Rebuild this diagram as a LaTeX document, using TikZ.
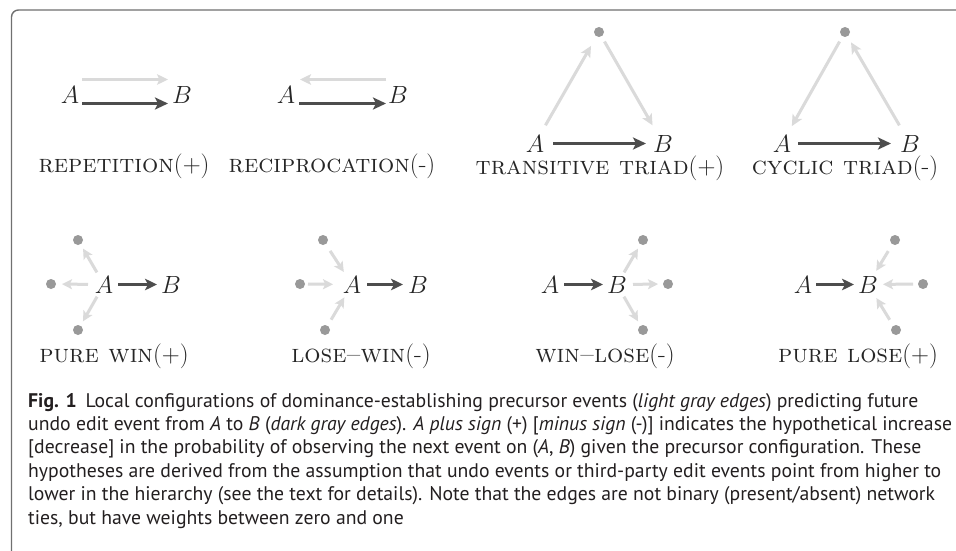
\documentclass[tikz,border=0pt]{standalone}
\usepackage{fontspec}
\newfontfamily\capfont{PT Sans}
\usetikzlibrary{arrows.meta}
\definecolor{darkc}{HTML}{4D4D4D}
\definecolor{lightc}{HTML}{DADADA}
\definecolor{dotc}{HTML}{999999}
\definecolor{framec}{HTML}{707070}
\definecolor{textc}{HTML}{231F20}
\begin{document}
\begin{tikzpicture}[x=1pt,y=-1pt,
  lbl/.style={font=\fontsize{24.5}{28}\selectfont, inner sep=0pt, anchor=base, text=black!85},
  tag/.style={font=\fontsize{25.5}{28}\selectfont, inner sep=0pt, anchor=base, text=black!85},
  dot/.style={circle, fill=dotc, minimum size=10pt, inner sep=0pt},
  darr/.style={draw=darkc, line width=3.8pt, -{Stealth[length=13pt,width=12pt,inset=3pt]}},
  larr/.style={draw=lightc, line width=3pt, -{Stealth[length=11pt,width=10.5pt,inset=2.5pt]}},
  darrs/.style={draw=darkc, line width=3.6pt, -{Stealth[length=12pt,width=11.5pt,inset=3pt]}},
  larrs/.style={draw=lightc, line width=3pt, -{Stealth[length=10pt,width=10pt,inset=2.2pt]}},
]
\useasboundingbox (0,0) rectangle (956,551);
\clip (0,0) rectangle (956,551);
\fill[white] (0,0) rectangle (956,551);
\draw[framec, line width=1.4pt, rounded corners=7pt] (11.5,600) -- (11.5,10) -- (1000,10);

% ---- Panel 1: repetition
\node[lbl] (A1) at (70,103) {$A$};
\node[lbl] (B1) at (182,103) {$B$};
\draw[larr, shorten <=12pt, shorten >=14pt] ([yshift=15pt]A1.center) -- ([yshift=15pt]B1.center);
\draw[darr, shorten <=12pt, shorten >=14pt] ([yshift=-9pt]A1.center) -- ([yshift=-9pt]B1.center);
\node[tag] (L1) at (124,172) {\textsc{repetition}$(+)$};

% ---- Panel 2: reciprocation
\node[lbl] (A2) at (286,103) {$A$};
\node[lbl] (B2) at (398,103) {$B$};
\draw[larr, shorten <=12pt, shorten >=14pt] ([yshift=15pt]B2.center) -- ([yshift=15pt]A2.center);
\draw[darr, shorten <=13pt, shorten >=12pt] ([yshift=-9pt]A2.center) -- ([yshift=-9pt]B2.center);
\node[tag] (L2) at (332,172) {\textsc{reciprocation}$($-$)$};

% ---- Panel 3: transitive triad
\node[lbl] (A3) at (535,152) {$A$};
\node[lbl] (B3) at (663,152) {$B$};
\node[dot] (T3) at (599,32) {};
\draw[darr, shorten <=18pt, shorten >=17pt] (A3.center) -- (B3.center);
\draw[larr, shorten <=21pt, shorten >=16pt] (A3.center) -- (T3.center);
\draw[larr, shorten <=11pt, shorten >=21pt] (T3.center) -- (B3.center);
\node[tag] (L3) at (600,174) {\textsc{transitive triad}$(+)$};

% ---- Panel 4: cyclic triad
\node[lbl] (A4) at (782,152) {$A$};
\node[lbl] (B4) at (910,152) {$B$};
\node[dot] (T4) at (845,32) {};
\draw[darr, shorten <=16pt, shorten >=19pt] (A4.center) -- (B4.center);
\draw[larr, shorten <=11pt, shorten >=20pt] (T4.center) -- (A4.center);
\draw[larr, shorten <=21pt, shorten >=12pt] (B4.center) -- (T4.center);
\node[tag] (L4) at (845,174) {\textsc{cyclic triad}$($-$)$};

% ---- Panel 5: pure win
\node[lbl] (A5) at (104,293) {$A$};
\node[lbl] (B5) at (171,293) {$B$};
\node[dot] (U5) at (78,240) {};
\node[dot] (W5) at (51,284) {};
\node[dot] (D5) at (78,330) {};
\draw[darrs, shorten <=14pt, shorten >=14pt] (A5.center) -- (B5.center);
\draw[larrs, shorten <=14pt, shorten >=10pt] (A5.center) -- (U5.center);
\draw[larrs, shorten <=16pt, shorten >=11pt] (A5.center) -- (W5.center);
\draw[larrs, shorten <=14pt, shorten >=10pt] (A5.center) -- (D5.center);
\node[tag] (L5) at (114,362) {\textsc{pure win}$(+)$};

% ---- Panel 6: lose-win
\node[lbl] (A6) at (352,293) {$A$};
\node[lbl] (B6) at (418,293) {$B$};
\node[dot] (U6) at (323,240) {};
\node[dot] (W6) at (300,284) {};
\node[dot] (D6) at (325,330) {};
\draw[darrs, shorten <=15pt, shorten >=15pt] (A6.center) -- (B6.center);
\draw[larrs, shorten <=13pt, shorten >=15pt] (U6.center) -- (A6.center);
\draw[larrs, shorten <=8pt, shorten >=19pt] (W6.center) -- (A6.center);
\draw[larrs, shorten <=12pt, shorten >=15pt] (D6.center) -- (A6.center);
\node[tag] (L6) at (361,362) {\textsc{lose--win}$($-$)$};

% ---- Panel 7: win-lose
\node[lbl] (A7) at (550,293) {$A$};
\node[lbl] (B7) at (617,293) {$B$};
\node[dot] (U7) at (643,240) {};
\node[dot] (E7) at (668,284) {};
\node[dot] (D7) at (643,330) {};
\draw[darrs, shorten <=14pt, shorten >=14pt] (A7.center) -- (B7.center);
\draw[larrs, shorten <=14pt, shorten >=10pt] (B7.center) -- (U7.center);
\draw[larrs, shorten <=16pt, shorten >=10pt] (B7.center) -- (E7.center);
\draw[larrs, shorten <=14pt, shorten >=10pt] (B7.center) -- (D7.center);
\node[tag] (L7) at (605,362) {\textsc{win--lose}$($-$)$};

% ---- Panel 8: pure lose
\node[lbl] (A8) at (803,293) {$A$};
\node[lbl] (B8) at (868,293) {$B$};
\node[dot] (U8) at (895,240) {};
\node[dot] (E8) at (923,284) {};
\node[dot] (D8) at (896,330) {};
\draw[darrs, shorten <=13pt, shorten >=14pt] (A8.center) -- (B8.center);
\draw[larrs, shorten <=13pt, shorten >=16pt] (U8.center) -- (B8.center);
\draw[larrs, shorten <=10pt, shorten >=15pt] (E8.center) -- (B8.center);
\draw[larrs, shorten <=12pt, shorten >=16pt] (D8.center) -- (B8.center);
\node[tag] (L8) at (858,362) {\textsc{pure lose}$(+)$};

% ---- Caption
\node[anchor=base west, inner sep=0pt, align=left, text=textc,
      font=\capfont\fontsize{19.7}{23.4}\selectfont] (cap) at (28,524)
{\textbf{Fig. 1}\hspace{0.45em}Local configurations of dominance-establishing precursor events (\textit{light gray edges}) predicting future\\
undo edit event from \textit{A} to \textit{B} (\textit{dark gray edges}). \textit{A plus sign} (+) [\textit{minus sign} (-)] indicates the hypothetical increase\\
\relax[decrease] in the probability of observing the next event on (\textit{A}, \textit{B}) given the precursor configuration. These\\
hypotheses are derived from the assumption that undo events or third-party edit events point from higher to\\
lower in the hierarchy (see the text for details). Note that the edges are not binary (present/absent) network\\
ties, but have weights between zero and one};
\end{tikzpicture}
\end{document}
